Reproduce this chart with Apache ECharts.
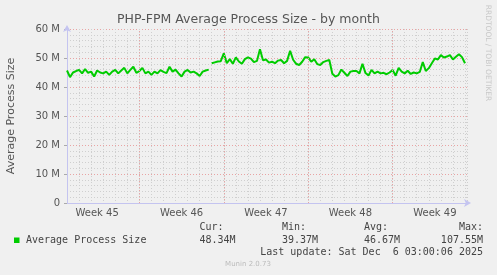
<!DOCTYPE html>
<html><head><meta charset="utf-8">
<script src="https://cdn.jsdelivr.net/npm/echarts@6/dist/echarts.min.js"></script>
<style>html,body{margin:0;padding:0;background:#f0f0f0;}#c{width:497px;height:275px;}</style>
</head><body><div id="c"></div>
<script>
const chartTitle = 'PHP-FPM Average Process Size - by month';
const yAxisTitle = 'Average Process Size';
const seriesName = 'Average Process Size';
const vendorText = 'RRDTOOL / TOBI OETIKER';
const footerText = 'Munin 2.0.73';
const lastUpdate = 'Last update: Sat Dec  6 03:00:06 2025';

// time axis in hours; samples every 6 h
const sampleStartHour = 24;
const sampleStepHours = 6;
const axisStartHour = 24;
const axisEndHour = 820;

// values in millions of bytes (M)
const valuesBeforeGap = [
  45.7,43.4,45.0,45.5,45.9,44.7,46.2,44.9,45.3,43.6,
  45.7,45.0,44.7,45.3,44.2,45.3,45.9,44.7,45.7,46.6,
  44.7,45.9,47.0,44.9,45.5,46.6,44.7,45.3,44.2,45.3,
  44.7,45.8,45.2,44.8,47.0,45.3,46.0,44.7,43.6,45.3,
  45.9,45.0,45.3,44.7,43.8,45.3,45.7,46.0
];
const valuesAfterGap = [
  48.2,48.5,48.8,48.9,51.6,48.2,49.6,48.0,50.2,48.8,48.0,49.6,50.2,49.8,48.6,49.0,53.0,49.2,49.5,
  48.4,48.7,48.2,49.1,49.3,48.2,49.0,52.5,49.4,48.0,47.6,48.7,50.3,50.2,48.7,49.6,47.9,47.6,48.6,49.0,49.3,
  44.6,43.6,44.1,46.0,44.9,43.8,45.3,45.5,45.5,44.7,48.0,44.8,44.0,45.9,44.7,45.3,44.7,44.9,44.4,45.0,
  45.9,43.9,46.6,45.3,44.7,45.6,44.5,45.0,44.7,45.2,
  48.6,45.5,46.5,48.2,49.8,49.5,51.0,50.2,50.5,51.0,49.5,50.4,51.3,50.3,48.2
];

const weekLabels = ['Week 45','Week 46','Week 47','Week 48','Week 49'];
const weekLabelHours = [84, 252, 420, 588, 756];
const weekBoundaryHours = [168, 336, 504, 672];

const statLabels = ['Cur:', 'Min:', 'Avg:', 'Max:'];
const statValues = ['48.34M', '39.37M', '46.67M', '107.55M'];

const data = [];
valuesBeforeGap.forEach((v, i) => data.push([sampleStartHour + i * sampleStepHours, v]));
data.push([sampleStartHour + (valuesBeforeGap.length - 0.5) * sampleStepHours, '-']);
valuesAfterGap.forEach((v, i) => data.push([sampleStartHour + (valuesBeforeGap.length + i) * sampleStepHours, v]));

const GRID_MINOR = '#cfcfcf';
const GRID_MAJOR = '#e8a4a4';
const AXIS_COLOR = '#c4c4f0';
const GREEN = '#00cc00';
const SANS = 'DejaVu Sans';
const MONO = 'DejaVu Sans Mono';

const chart = echarts.init(document.getElementById('c'), null, {renderer: 'canvas'});

const statX = [199.5, 282, 364];
const graphic = [
  {type: 'text', style: {text: chartTitle, x: 248.5, y: 19.5, textAlign: 'center', textVerticalAlign: 'middle', font: '12.5px "' + SANS + '"', fill: '#555'}},
  {type: 'text', rotation: Math.PI / 2, x: 11, y: 116, style: {text: yAxisTitle, x: 0, y: 0, textAlign: 'center', textVerticalAlign: 'middle', font: '11px "' + SANS + '"', fill: '#555'}},
  {type: 'text', rotation: -Math.PI / 2, x: 488, y: 53, style: {text: vendorText, x: 0, y: 0, textAlign: 'center', textVerticalAlign: 'middle', font: '7.5px "' + SANS + '"', fill: '#c8c8c8'}},
  {type: 'rect', shape: {x: 14, y: 237.5, width: 5.5, height: 5.5}, style: {fill: GREEN}},
  {type: 'text', style: {text: seriesName, x: 26, y: 240, textAlign: 'left', textVerticalAlign: 'middle', font: '10px "' + MONO + '"', fill: '#444'}},
  {type: 'text', style: {text: lastUpdate, x: 483, y: 252, textAlign: 'right', textVerticalAlign: 'middle', font: '10px "' + MONO + '"', fill: '#444'}},
  {type: 'text', style: {text: footerText, x: 248, y: 264, textAlign: 'center', textVerticalAlign: 'middle', font: '7px "' + SANS + '"', fill: '#bbb'}}
];
statLabels.forEach((s, k) => {
  if (k < 3) {
    graphic.push({type: 'text', style: {text: s, x: statX[k], y: 227.5, textAlign: 'left', textVerticalAlign: 'middle', font: '10px "' + MONO + '"', fill: '#444'}});
    graphic.push({type: 'text', style: {text: statValues[k], x: statX[k], y: 240, textAlign: 'left', textVerticalAlign: 'middle', font: '10px "' + MONO + '"', fill: '#444'}});
  } else {
    graphic.push({type: 'text', style: {text: s, x: 483, y: 227.5, textAlign: 'right', textVerticalAlign: 'middle', font: '10px "' + MONO + '"', fill: '#444'}});
    graphic.push({type: 'text', style: {text: statValues[k], x: 483, y: 240, textAlign: 'right', textVerticalAlign: 'middle', font: '10px "' + MONO + '"', fill: '#444'}});
  }
});

const option = {
  backgroundColor: '#f0f0f0',
  animation: false,
  grid: {left: 67, right: 30, top: 29, bottom: 72, show: false},
  xAxis: [
    {
      type: 'value', min: axisStartHour, max: axisEndHour, interval: 24,
      axisLine: {show: true, onZero: false, lineStyle: {color: AXIS_COLOR, width: 1}, symbol: ['none', 'arrow'], symbolSize: [6, 7], symbolOffset: [0, 4]},
      axisTick: {show: false}, axisLabel: {show: false},
      splitLine: {show: true, lineStyle: {color: GRID_MINOR, type: [1, 2], width: 1}}
    },
    {
      type: 'value', min: axisStartHour, max: axisEndHour, interval: 12, position: 'bottom',
      axisLine: {show: false}, axisTick: {show: false}, splitLine: {show: false},
      axisLabel: {show: true, margin: 5, color: '#555', fontFamily: SANS, fontSize: 10,
        formatter: v => { const k = weekLabelHours.indexOf(Math.round(v)); return k >= 0 ? weekLabels[k] : ''; }}
    }
  ],
  yAxis: [
    {
      type: 'value', min: 0, max: 60, interval: 2,
      axisLine: {show: true, onZero: false, lineStyle: {color: AXIS_COLOR, width: 1}, symbol: ['none', 'arrow'], symbolSize: [6, 7], symbolOffset: [0, 4]},
      axisTick: {show: false}, axisLabel: {show: false},
      splitLine: {show: true, lineStyle: {color: GRID_MINOR, type: [1, 2], width: 1}}
    },
    {
      type: 'value', min: 0, max: 60, interval: 10, position: 'left',
      axisLine: {show: false}, axisTick: {show: true, length: 3, lineStyle: {color: '#aaa'}},
      axisLabel: {margin: 7, color: '#555', fontFamily: SANS, fontSize: 10, formatter: v => v === 0 ? '0' : v + ' M'},
      splitLine: {show: true, lineStyle: {color: GRID_MAJOR, type: [1, 2], width: 1}}
    }
  ],
  series: [
    {
      type: 'line', xAxisIndex: 0, yAxisIndex: 0, data: [], z: 1, silent: true,
      markLine: {silent: true, symbol: ['none', 'none'], label: {show: false},
        lineStyle: {color: GRID_MAJOR, type: [1, 2], width: 1},
        emphasis: {disabled: true},
        data: weekBoundaryHours.map(h => ({xAxis: h}))}
    },
    {
      name: seriesName, type: 'line', xAxisIndex: 0, yAxisIndex: 0, data: data,
      showSymbol: false, symbol: 'none', connectNulls: false, z: 3,
      lineStyle: {color: GREEN, width: 2}, itemStyle: {color: GREEN}
    }
  ],
  graphic: graphic
};
chart.setOption(option);
</script></body></html>
